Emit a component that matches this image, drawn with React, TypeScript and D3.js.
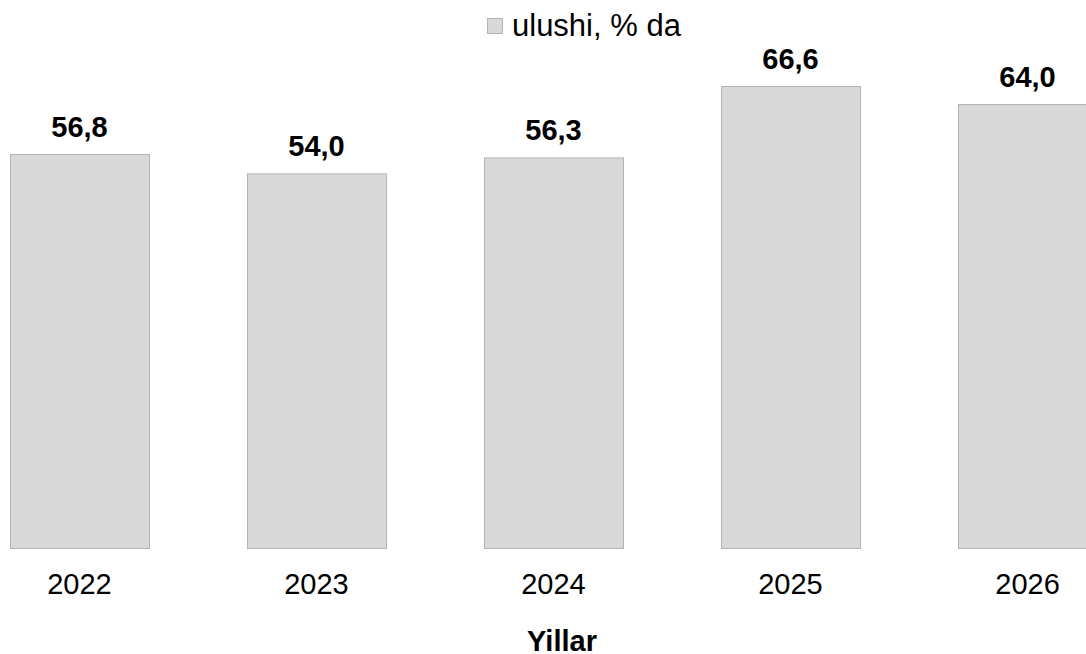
import React from "react";
import * as d3 from "d3";

const years = ["2022", "2023", "2024", "2025", "2026"];
const values = [56.8, 54.0, 56.3, 66.6, 64.0];
const seriesName = "ulushi, % da";
const axisTitle = "Yillar";

const W = 1086;
const H = 654;
const FONT = "'Liberation Sans', Arial, Helvetica, sans-serif";

export default function App() {
  const x = d3
    .scaleBand<string>()
    .domain(years)
    .range([-39, 1146])
    .paddingInner(0.4135)
    .paddingOuter(0.2067);
  const y = d3.scaleLinear().domain([0, 70]).range([548, 548 - 70 * 6.937]);
  const fmt = (v: number) => d3.format(".1f")(v).replace(".", ",");

  return (
    <svg
      width={W}
      height={H}
      style={{ position: "absolute", left: 0, top: 0, background: "#fff" }}
      fontFamily={FONT}
    >
      <rect x={0} y={0} width={W} height={H} fill="#fff" />
      {/* legend */}
      <rect x={487.5} y={18.5} width={15} height={15} fill="#d9d9d9" stroke="#b3b3b3" strokeWidth={1} />
      <text x={512} y={36} fontSize={31} fill="#000">
        {seriesName}
      </text>
      {years.map((yr, i) => {
        const bx = x(yr)!;
        const bw = x.bandwidth();
        const top = y(values[i]);
        return (
          <g key={yr}>
            <rect
              x={bx + 0.5}
              y={top + 0.5}
              width={bw}
              height={y(0) - top}
              fill="#d9d9d9"
              stroke="#b3b3b3"
              strokeWidth={1}
            />
            <text
              x={bx + bw / 2}
              y={top - 17}
              textAnchor="middle"
              fontSize={29}
              fontWeight="bold"
              fill="#000"
            >
              {fmt(values[i])}
            </text>
            <text x={bx + bw / 2} y={593.5} textAnchor="middle" fontSize={29} fill="#000">
              {yr}
            </text>
          </g>
        );
      })}
      <text x={562} y={651} textAnchor="middle" fontSize={29} fontWeight="bold" fill="#000">
        {axisTitle}
      </text>
    </svg>
  );
}
